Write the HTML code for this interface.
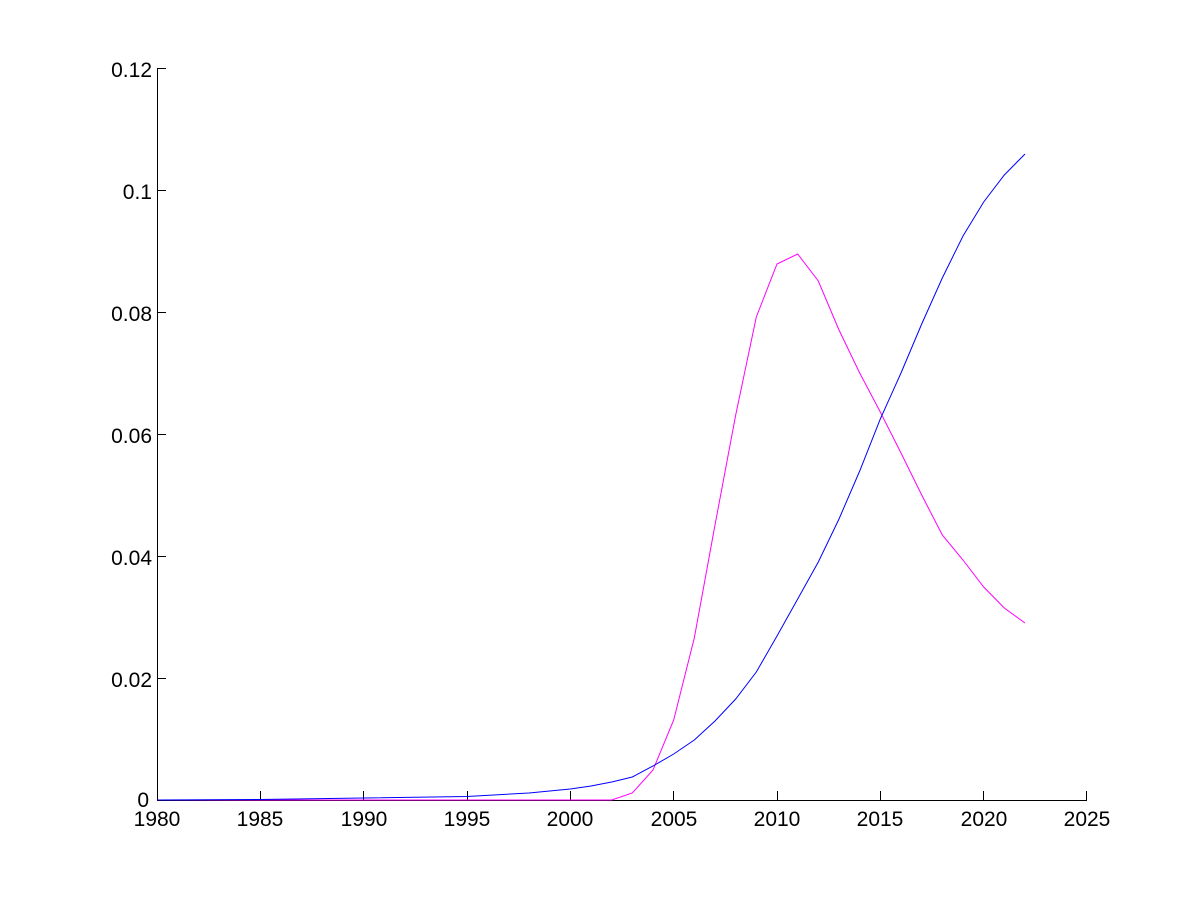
<!DOCTYPE html>
<html><head><meta charset="utf-8"><style>html,body{margin:0;padding:0;background:#fff}svg{display:block}</style></head>
<body>
<svg width="1200" height="900" xmlns="http://www.w3.org/2000/svg" font-family="Liberation Sans, Arial, sans-serif" font-size="21">
<rect width="1200" height="900" fill="#fff"/>
<g stroke="#000" stroke-width="1" fill="none">
<line x1="157.5" y1="68" x2="157.5" y2="800.5"/>
<line x1="157" y1="800.5" x2="1087" y2="800.5"/>
<line x1="157" y1="68.5" x2="166" y2="68.5"/>
<line x1="157" y1="190.5" x2="166" y2="190.5"/>
<line x1="157" y1="312.5" x2="166" y2="312.5"/>
<line x1="157" y1="434.5" x2="166" y2="434.5"/>
<line x1="157" y1="556.5" x2="166" y2="556.5"/>
<line x1="157" y1="678.5" x2="166" y2="678.5"/>
<line x1="260.5" y1="800" x2="260.5" y2="791"/>
<line x1="363.5" y1="800" x2="363.5" y2="791"/>
<line x1="467.5" y1="800" x2="467.5" y2="791"/>
<line x1="570.5" y1="800" x2="570.5" y2="791"/>
<line x1="673.5" y1="800" x2="673.5" y2="791"/>
<line x1="777.5" y1="800" x2="777.5" y2="791"/>
<line x1="880.5" y1="800" x2="880.5" y2="791"/>
<line x1="983.5" y1="800" x2="983.5" y2="791"/>
<line x1="1086.5" y1="800" x2="1086.5" y2="791"/>
</g>
<g text-anchor="end" fill="#000">
<text x="152" y="77">0.12</text>
<text x="152" y="199">0.1</text>
<text x="152" y="321">0.08</text>
<text x="152" y="443">0.06</text>
<text x="152" y="565">0.04</text>
<text x="152" y="687">0.02</text>
<text x="149" y="807">0</text>
</g>
<g text-anchor="middle" fill="#000">
<text x="157" y="826">1980</text>
<text x="260" y="826">1985</text>
<text x="364" y="826">1990</text>
<text x="467" y="826">1995</text>
<text x="570" y="826">2000</text>
<text x="674" y="826">2005</text>
<text x="777" y="826">2010</text>
<text x="880" y="826">2015</text>
<text x="984" y="826">2020</text>
<text x="1087" y="826">2025</text>
</g>
<polyline fill="none" stroke="#ff00ff" stroke-width="1" points="157,800 611.7,800 632.3,793 653,770 673.7,720 694.3,638 715,525 735.7,415 756.3,317 777,264 797.7,254 818.3,281 839,330 859.7,373 880.3,412 901,453 921.7,495 942.3,535 963,560 983.7,587 1004.3,608 1025,623"/>
<polyline fill="none" stroke="#0000ff" stroke-width="1" points="157,800 260,799.5 364,798 467,796.5 529,793 570.3,789 591,786 611.7,782 632.3,777 653,766 673.7,754 694.3,740 715,721 735.7,699 756.3,672 777,636 797.7,599 818.3,562 839,519 859.7,471 880.3,419 901,373 921.7,324 942.3,278 963,236 983.7,202 1004.3,175 1025,154"/>
</svg>
</body></html>
